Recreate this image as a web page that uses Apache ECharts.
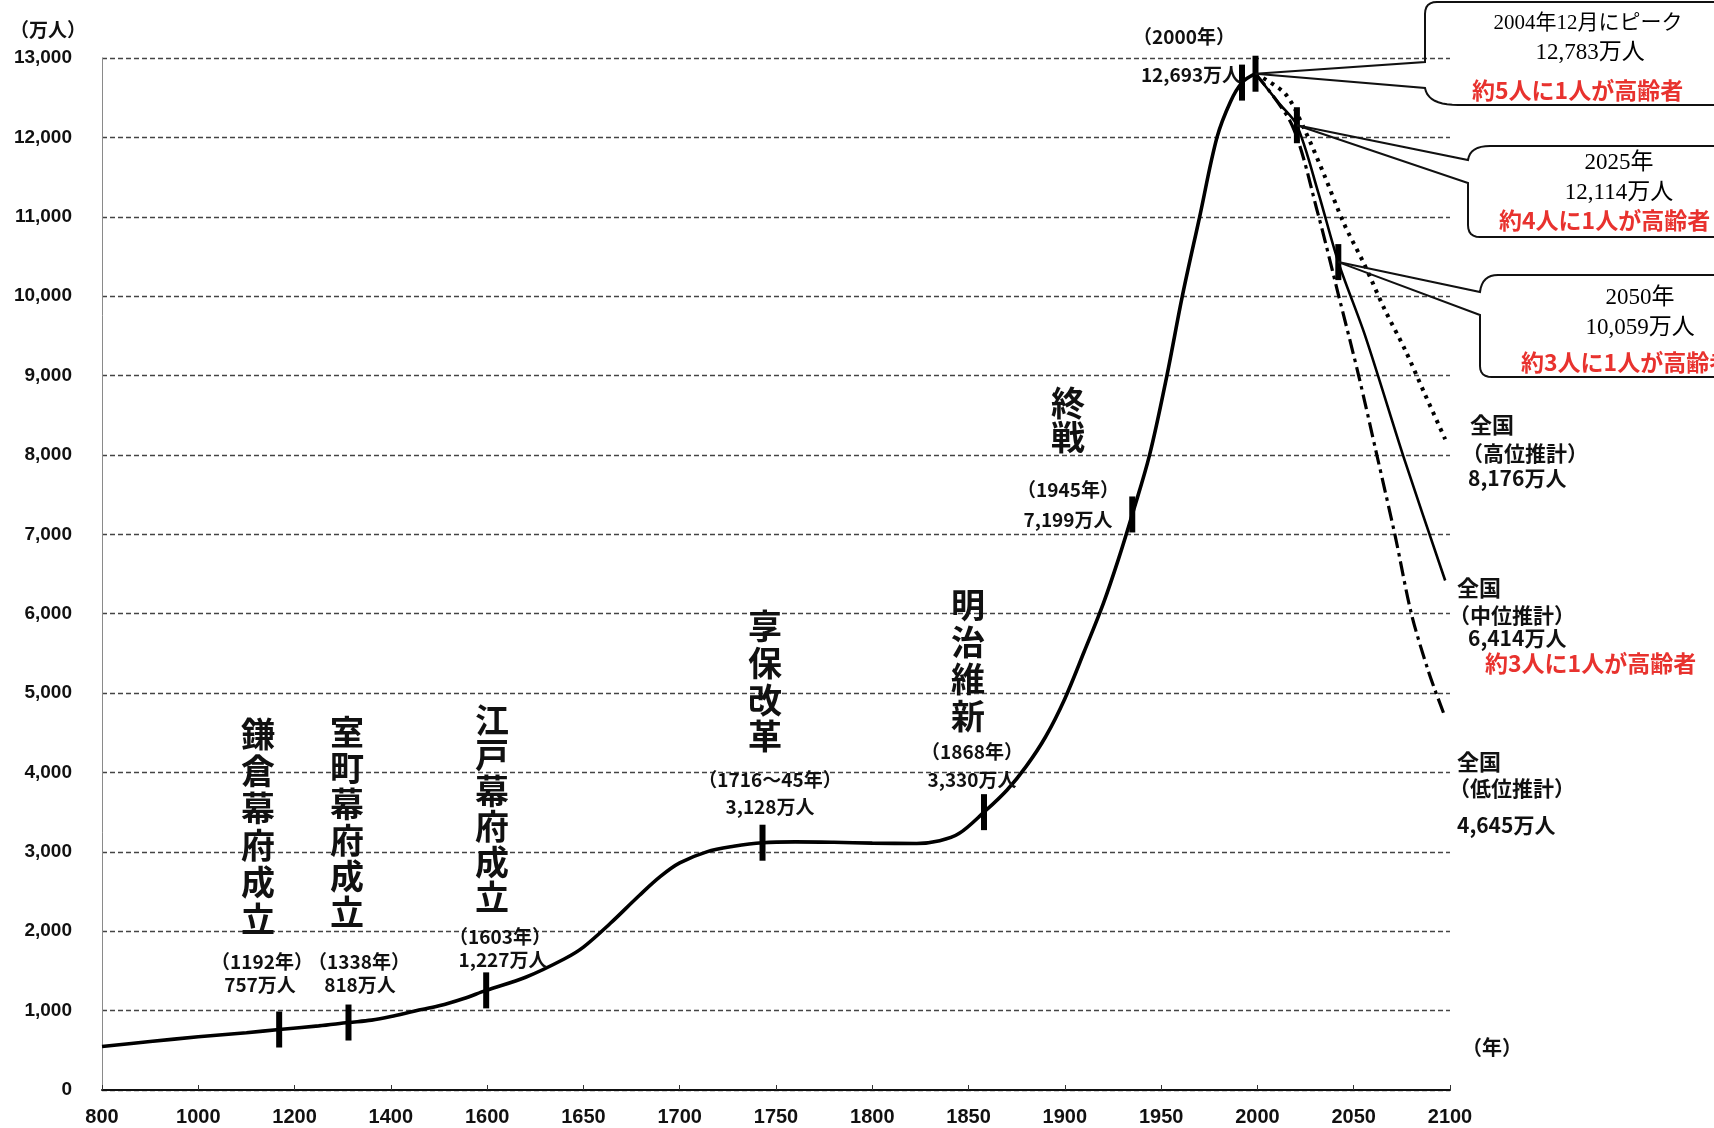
<!DOCTYPE html>
<html><head><meta charset="utf-8">
<script src="https://cdn.jsdelivr.net/npm/echarts@6/dist/echarts.min.js"></script>
<style>html,body{margin:0;padding:0;background:#fff;}#c{width:1714px;height:1128px;}</style>
</head><body><div id="c"></div>
<script>
// ---- axis ticks (non-uniform time axis: every label interval has equal width) ----
const tickYears  = [800, 1000, 1200, 1400, 1600, 1650, 1700, 1750, 1800, 1850, 1900, 1950, 2000, 2050, 2100];
const tickLabels = ['800','1000','1200','1400','1600','1650','1700','1750','1800','1850','1900','1950','2000','2050','2100'];

// ---- historical population (万人) ----
const histYears  = [800, 900, 1000, 1100, 1168, 1250, 1312, 1360, 1400, 1450, 1500, 1550, 1598, 1620, 1640, 1650, 1664, 1679, 1690, 1700, 1714, 1728, 1743, 1760, 1780, 1800, 1823, 1835, 1845, 1858, 1870, 1880, 1890, 1900, 1910, 1920, 1928, 1935, 1944, 1953, 1961, 1970, 1979, 1986, 1992, 1999];
const histValues = [548, 610, 671, 722, 762, 808, 850, 880, 925, 995, 1060, 1150, 1255, 1420, 1650, 1800, 2100, 2450, 2690, 2860, 3000, 3070, 3115, 3125, 3120, 3110, 3105, 3140, 3230, 3500, 3780, 4080, 4450, 4930, 5520, 6130, 6700, 7250, 8000, 9000, 10000, 11000, 12000, 12450, 12690, 12802];

// ---- projections ----
const midYears   = [1999, 2011, 2020.5, 2031.6, 2042, 2056, 2076.7, 2097.5];
const midValues  = [12802, 12435, 12153, 11305, 10429, 9497, 7915, 6418];
const highYears  = [1999, 2014.5, 2024.5, 2034.6, 2045, 2055.5, 2066, 2076.6, 2087, 2097.5];
const highValues = [12802, 12548, 12096, 11531, 10910, 10401, 9836, 9328, 8763, 8198];
const lowYears   = [1999, 2018, 2031.6, 2042, 2052.5, 2062, 2071.5, 2080, 2089, 2097.5];
const lowValues  = [12802, 12153, 11023, 10023, 9006, 8000, 6983, 5994, 5260, 4695];

// ---- event markers on the curve ----
const markYears  = [1168, 1312, 1598, 1743, 1858, 1935, 1992, 1999, 2020.5, 2042];
const markValues = [762, 850, 1255, 3115, 3500, 7250, 12690, 12802, 12153, 10429];

function yearToIdx(y) {
  for (let i = 0; i < tickYears.length - 1; i++) {
    if (y <= tickYears[i + 1]) return i + (y - tickYears[i]) / (tickYears[i + 1] - tickYears[i]);
  }
  return tickYears.length - 1;
}
const pairs = (ys, vs) => ys.map((y, i) => [yearToIdx(y), vs[i]]);

const chart = echarts.init(document.getElementById('c'), null, {renderer: 'canvas'});
const CJK = '"Noto Sans CJK JP", "Noto Sans", sans-serif';
const SERIF = '"Liberation Serif", "DejaVu Serif", "Noto Sans CJK JP", serif';

chart.setOption({
  backgroundColor: '#fff',
  animation: false,
  grid: {left: 102, right: 264, top: 58, bottom: 38},
  xAxis: {
    type: 'value', min: 0, max: tickYears.length - 1, interval: 1,
    axisLine: {lineStyle: {color: '#111', width: 2}},
    axisTick: {inside: true, length: 5, lineStyle: {color: '#333', width: 1}},
    axisLabel: {
      margin: 17, color: '#111', fontFamily: '"Liberation Sans", Arial, sans-serif',
      fontWeight: 'bold', fontSize: 20,
      formatter: v => tickLabels[Math.round(v)] || ''
    },
    splitLine: {show: false}
  },
  yAxis: {
    type: 'value', min: 0, max: 13000, interval: 1000,
    axisLine: {show: true, lineStyle: {color: '#8a8a8a', width: 1}},
    axisTick: {show: false},
    axisLabel: {
      margin: 30, color: '#111', fontFamily: '"Liberation Sans", Arial, sans-serif',
      fontWeight: 'bold', fontSize: 19,
      formatter: v => v.toLocaleString('en-US')
    },
    splitLine: {show: true, lineStyle: {color: '#444', width: 1.4, type: [5, 3]}}
  },
  series: [
    {name: '人口', type: 'line', data: pairs(histYears, histValues), smooth: 0.35,
      showSymbol: false, lineStyle: {color: '#000', width: 3.6}, z: 5},
    {name: '中位推計', type: 'line', data: pairs(midYears, midValues), smooth: 0.3,
      showSymbol: false, lineStyle: {color: '#000', width: 2.6}, z: 4},
    {name: '高位推計', type: 'line', data: pairs(highYears, highValues), smooth: 0.3,
      showSymbol: false, lineStyle: {color: '#000', width: 4, type: [3.5, 5.5], cap: 'butt'}, z: 4},
    {name: '低位推計', type: 'line', data: pairs(lowYears, lowValues), smooth: 0.3,
      showSymbol: false, lineStyle: {color: '#000', width: 3.2, type: [15, 5, 3.5, 5], cap: 'butt'}, z: 4},
    {name: 'marks', type: 'scatter', data: pairs(markYears, markValues), symbol: 'rect',
      symbolSize: [6, 36], itemStyle: {color: '#000', opacity: 1}, z: 6}
  ]
});

// ---- annotations ----
function txt(text, x, y, size, opt) {
  opt = opt || {};
  return {
    type: 'text', x: x, y: y, z: 100,
    style: {
      text: text,
      font: (opt.weight || 'bold') + ' ' + size + 'px ' + (opt.family || CJK),
      fill: opt.color || '#111',
      align: opt.align || 'center', textAlign: opt.align || 'center',
      verticalAlign: opt.valign || 'middle', textVerticalAlign: opt.valign || 'middle',
      lineHeight: opt.lh
    }
  };
}
function vtxt(s, x, yTop, lh) {
  return txt(s.split('').join('\n'), x, yTop, 34, {valign: 'top', lh: lh});
}
function quad(p0, c, p1, n) {
  const pts = [];
  for (let i = 1; i <= n; i++) {
    const t = i / n, u = 1 - t;
    pts.push([u*u*p0[0] + 2*u*t*c[0] + t*t*p1[0], u*u*p0[1] + 2*u*t*c[1] + t*t*p1[1]]);
  }
  return pts;
}
function poly(points, w) {
  return {type: 'polyline', z: 90, shape: {points: points},
    style: {stroke: '#111', lineWidth: w || 2, fill: null}};
}
const px = (y, v) => chart.convertToPixel({gridIndex: 0}, [yearToIdx(y), v]);
const RED = '#e8322e';
const W = 1714;

const P1 = px(1999, 12802), P2 = px(2020.5, 12153), P3 = px(2042, 10429);

const g = [
  txt('（万人）', 48, 30, 19),
  txt('（年）', 1492, 1047, 20),

  vtxt('鎌倉幕府成立', 258, 716, 37),
  vtxt('室町幕府成立', 347, 714, 36),
  vtxt('江戸幕府成立', 492, 702, 35.5),
  vtxt('享保改革', 765, 608, 36.7),
  vtxt('明治維新', 968, 586, 37.3),
  vtxt('終戦', 1068, 386, 34),

  txt('（1192年）', 262, 962, 19), txt('757万人', 260, 985, 19),
  txt('（1338年）', 359, 962, 19), txt('818万人', 360, 985, 19),
  txt('（1603年）', 500, 937, 19), txt('1,227万人', 503, 960, 19),
  txt('（1716～45年）', 770, 780, 19), txt('3,128万人', 770, 807, 19),
  txt('（1868年）', 972, 752, 19), txt('3,330万人', 972, 780, 19),
  txt('（1945年）', 1068, 490, 19), txt('7,199万人', 1068, 520, 19),
  txt('（2000年）', 1184, 37, 19), txt('12,693万人', 1191, 75, 19),

  txt('全国', 1470, 425, 22, {align: 'left'}),
  txt('（高位推計）', 1462, 453, 21, {align: 'left'}),
  txt('8,176万人', 1468, 478, 21, {align: 'left'}),
  txt('全国', 1457, 588, 22, {align: 'left'}),
  txt('（中位推計）', 1449, 615, 21, {align: 'left'}),
  txt('6,414万人', 1468, 638, 21, {align: 'left'}),
  txt('約3人に1人が高齢者', 1485, 663, 23, {align: 'left', color: RED}),
  txt('全国', 1457, 762, 22, {align: 'left'}),
  txt('（低位推計）', 1449, 788, 21, {align: 'left'}),
  txt('4,645万人', 1457, 825, 21, {align: 'left'}),

  // callout 1
  txt('2004年12月にピーク', 1588, 23, 21, {family: SERIF, weight: 'normal', color: '#000'}),
  txt('12,783万人', 1590, 53, 23, {family: SERIF, weight: 'normal', color: '#000'}),
  txt('約5人に1人が高齢者', 1472, 90, 23, {align: 'left', color: RED}),
  // callout 2
  txt('2025年', 1619, 163, 23, {family: SERIF, weight: 'normal', color: '#000'}),
  txt('12,114万人', 1619, 193, 23, {family: SERIF, weight: 'normal', color: '#000'}),
  txt('約4人に1人が高齢者', 1499, 220, 23, {align: 'left', color: RED}),
  // callout 3
  txt('2050年', 1640, 298, 23, {family: SERIF, weight: 'normal', color: '#000'}),
  txt('10,059万人', 1640, 328, 23, {family: SERIF, weight: 'normal', color: '#000'}),
  txt('約3人に1人が高齢者', 1521, 362, 23, {align: 'left', color: RED}),
];

// callout outlines with leader lines from the markers
g.push(poly([P1, [1425, 62], [1425, 14]].concat(quad([1425, 14], [1425, 2], [1437, 2], 6)).concat([[W, 2]])));
g.push(poly([P1, [1425, 88]].concat(quad([1425, 88], [1428, 105], [1458, 105], 10)).concat([[W, 105]])));

g.push(poly([P2, [1468, 160]].concat(quad([1468, 160], [1470, 146], [1490, 146], 8)).concat([[W, 146]])));
g.push(poly([P2, [1468, 183], [1468, 225]].concat(quad([1468, 225], [1468, 237], [1480, 237], 6)).concat([[W, 237]])));

g.push(poly([P3, [1480, 292]].concat(quad([1480, 292], [1482, 275], [1498, 275], 8)).concat([[W, 275]])));
g.push(poly([P3, [1480, 315], [1480, 366]].concat(quad([1480, 366], [1480, 377], [1492, 377], 6)).concat([[W, 377]])));

chart.setOption({graphic: {elements: g}});
</script>
</body></html>
